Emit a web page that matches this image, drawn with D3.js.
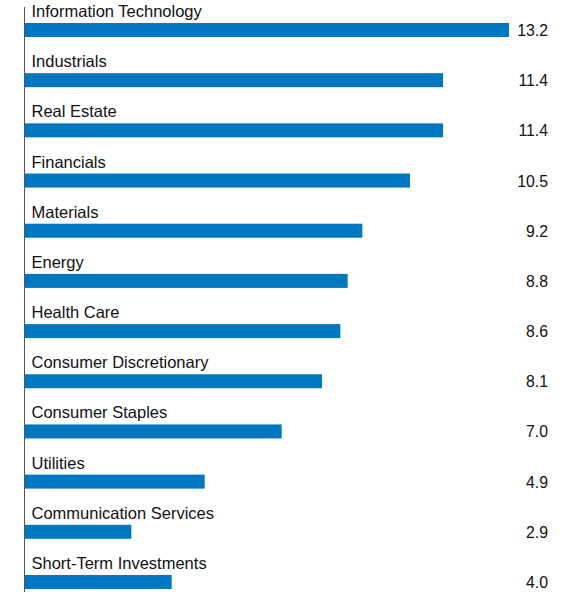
<!DOCTYPE html>
<html>
<head>
<meta charset="utf-8">
<script src="https://cdn.jsdelivr.net/npm/d3@7"></script>
<style>
    body { margin: 0; background: #fff; }
    svg text { font-family: "Liberation Sans", Arial, sans-serif; fill: #111; }
</style>
</head>
<body>
<svg id="chart" width="573" height="598"></svg>
<script>
// Sector weights (%)
const sectors = [
    'Information Technology', 'Industrials', 'Real Estate', 'Financials', 'Materials',
    'Energy', 'Health Care', 'Consumer Discretionary', 'Consumer Staples', 'Utilities',
    'Communication Services', 'Short-Term Investments'
];
const weights = [13.2, 11.4, 11.4, 10.5, 9.2, 8.8, 8.6, 8.1, 7.0, 4.9, 2.9, 4.0];

/**
 * Visual configs.
 */
const axisX = 24.5,
    barLeft = 25,
    rowStep = 50.18,
    firstBarTop = 23,
    barHeight = 14,
    valueRight = 548;

const svg = d3.select('#chart');

// One unit ~ 36.67px, bar for 13.2 ends at x=509
const xScale = d3.scaleLinear().domain([0, 13.2]).range([barLeft, 509]);
const yScale = d3.scaleLinear().domain([0, 1]).range([firstBarTop, firstBarTop + rowStep]);

const data = sectors.map((s, i) => ({ label: s, value: weights[i], idx: i }));

// Vertical axis line
svg.append('line')
    .attr('x1', axisX).attr('x2', axisX)
    .attr('y1', 7).attr('y2', 592)
    .attr('stroke', '#555')
    .attr('stroke-width', 1);

const rows = svg.selectAll('.row').data(data)
    .enter().append('g').attr('class', 'row');

rows.append('rect')
    .attr('x', barLeft)
    .attr('y', d => yScale(d.idx))
    .attr('width', d => xScale(d.value) - barLeft)
    .attr('height', barHeight)
    .attr('fill', '#0078c1');

rows.append('text')
    .attr('x', 31.5)
    .attr('y', d => yScale(d.idx) - 6)
    .style('font-size', '16.5px')
    .text(d => d.label);

rows.append('text')
    .attr('x', valueRight)
    .attr('y', d => yScale(d.idx) + barHeight - 1)
    .attr('text-anchor', 'end')
    .style('font-size', '15.8px')
    .text(d => d.value.toFixed(1));
</script>
</body>
</html>
